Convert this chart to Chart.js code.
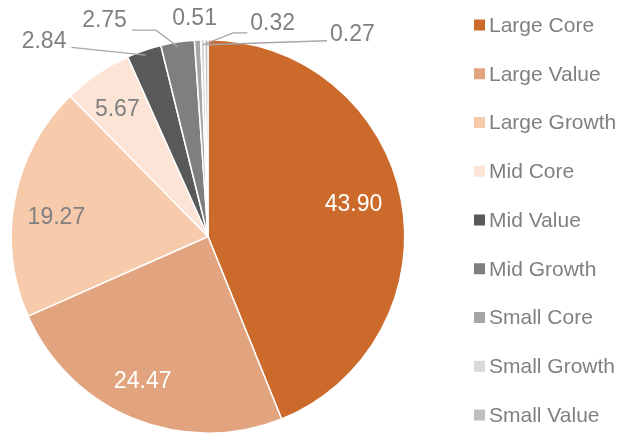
<!DOCTYPE html>
<html>
<head>
<meta charset="utf-8">
<script src="https://cdn.jsdelivr.net/npm/chart.js@4.4.1/dist/chart.umd.min.js"></script>
<style>
  html, body { margin: 0; padding: 0; background: #fff; }
  #wrap { width: 625px; height: 434px; }
</style>
</head>
<body>
<div id="wrap"><canvas id="grafica"></canvas></div>
<script>
// Datos del gráfico
const categorias = ['Large Core', 'Large Value', 'Large Growth', 'Mid Core', 'Mid Value',
                    'Mid Growth', 'Small Core', 'Small Growth', 'Small Value'];
const valores = [43.90, 24.47, 19.27, 5.67, 2.84, 2.75, 0.51, 0.32, 0.27];
const colores = ['#CC6A2C', '#E2A47F', '#F8CAAC', '#FCE5D7', '#595959',
                 '#7F7F7F', '#A6A6A6', '#D9D9D9', '#BFBFBF'];

// Posición de cada etiqueta: dentro (radio relativo) o fuera con línea guía
const etiquetas = [
  { r: 0.8, dx: -9, dy: -2, color: '#FFFFFF' },
  { r: 0.8, dx: -6, dy: -1, color: '#FFFFFF' },
  { r: 0.8, dx: 3, dy: 11 },
  { r: 0.8, dx: -2, dy: 3 },
  { r: 1, dx: -100, dy: -9, linea: { lado: 'der', codo: 0 } },
  { r: 1, dx: -73, dy: -21, linea: { lado: 'der', codo: 24 } },
  { r: 1, dx: -3, dy: -21 },
  { r: 1, dx: 70, dy: -16, linea: { lado: 'izq', codo: 14 } },
  { r: 1, dx: 146, dy: -5, linea: { lado: 'izq', codo: 0 } }
];

const FUENTE = '"Liberation Sans", Arial, sans-serif';
const GRIS = '#808080';

// Plugin para etiquetas de datos con líneas guía
const pluginEtiquetas = {
  id: 'etiquetas',
  afterDatasetsDraw(chart) {
    const ctx = chart.ctx;
    const meta = chart.getDatasetMeta(0);
    ctx.save();
    ctx.font = '23px ' + FUENTE;
    ctx.textBaseline = 'middle';
    ctx.textAlign = 'center';
    meta.data.forEach((arc, i) => {
      const p = arc.getProps(['x', 'y', 'startAngle', 'endAngle', 'outerRadius'], true);
      const cfg = etiquetas[i];
      const a = (p.startAngle + p.endAngle) / 2;
      const bx = p.x + Math.cos(a) * p.outerRadius * cfg.r;
      const by = p.y + Math.sin(a) * p.outerRadius * cfg.r;
      const lx = bx + cfg.dx;
      const ly = by + cfg.dy;
      const texto = valores[i].toFixed(2);
      if (cfg.linea) {
        const w = ctx.measureText(texto).width;
        const sx = cfg.linea.lado === 'der' ? lx + w / 2 + 5 : lx - w / 2 - 3;
        const sy = ly + (cfg.linea.codo ? 9 : 6);
        const ex = p.x + Math.cos(a) * (p.outerRadius - 5);
        const ey = p.y + Math.sin(a) * (p.outerRadius - 5);
        ctx.strokeStyle = '#A6A6A6';
        ctx.lineWidth = 1.3;
        ctx.beginPath();
        ctx.moveTo(sx, sy);
        if (cfg.linea.codo) {
          const cx = cfg.linea.lado === 'der' ? sx + cfg.linea.codo : sx - cfg.linea.codo;
          ctx.lineTo(cx, sy);
        }
        ctx.lineTo(ex, ey);
        ctx.stroke();
      }
      ctx.fillStyle = cfg.color || GRIS;
      ctx.fillText(texto, lx, ly);
    });
    ctx.restore();
  }
};

// Leyenda dibujada a mano a la derecha
const pluginLeyenda = {
  id: 'leyenda',
  afterDraw(chart) {
    const ctx = chart.ctx;
    ctx.save();
    ctx.font = '21px ' + FUENTE;
    ctx.textBaseline = 'middle';
    ctx.textAlign = 'left';
    categorias.forEach((nombre, i) => {
      const y = 25 + i * 48.75;
      ctx.fillStyle = colores[i];
      ctx.fillRect(474, y - 5.5, 11, 11);
      ctx.fillStyle = GRIS;
      ctx.fillText(nombre, 489, y + 1);
    });
    ctx.restore();
  }
};

document.addEventListener('DOMContentLoaded', function() {
  const ctx = document.getElementById('grafica').getContext('2d');
  new Chart(ctx, {
    type: 'pie',
    data: {
      labels: categorias,
      datasets: [{
        data: valores,
        backgroundColor: colores,
        borderColor: '#FFFFFF',
        borderWidth: 1.5
      }]
    },
    options: {
      responsive: true,
      maintainAspectRatio: false,
      animation: false,
      layout: { padding: { left: 10, top: 39, right: 219, bottom: 0 } },
      plugins: {
        legend: { display: false },
        tooltip: { enabled: false }
      }
    },
    plugins: [pluginEtiquetas, pluginLeyenda]
  });
});
</script>
</body>
</html>
